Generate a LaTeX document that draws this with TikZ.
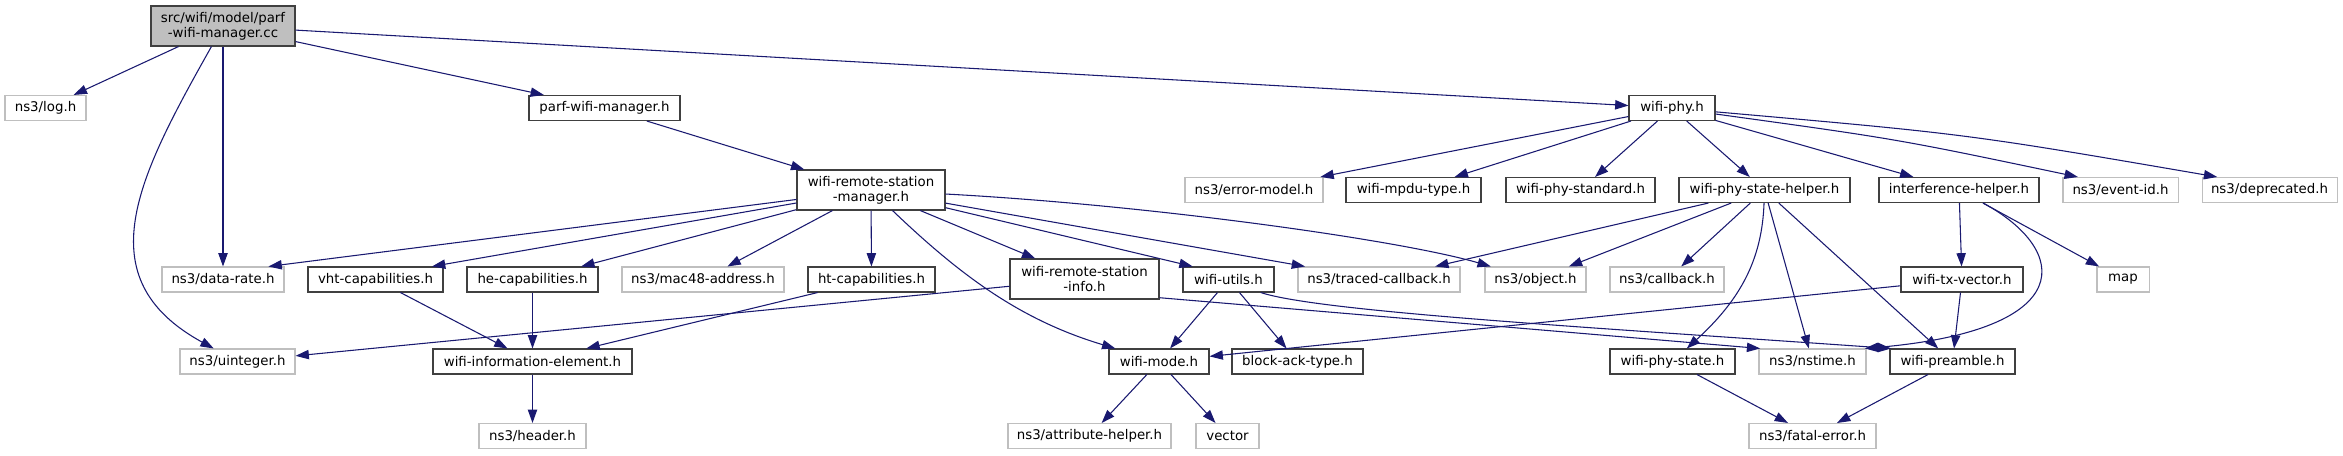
\documentclass[tikz,border=0pt]{standalone}
\usepackage{fontspec}
\setmainfont{DejaVu Sans}
\usepackage{xcolor}
\usepackage{tikz}
\usetikzlibrary{arrows.meta}

\definecolor{edgeblue}{HTML}{191970}
\definecolor{boxdark}{HTML}{404040}
\definecolor{boxlight}{HTML}{BFBFBF}

\begin{document}
\begin{tikzpicture}[x=0.75pt, y=-0.75pt,
    hdr/.style={draw=boxdark, line width=0.8pt, inner sep=0pt, minimum height=18.75pt,
                align=center, font=\fontsize{10}{11.5}\selectfont},
    syshdr/.style={hdr, draw=boxlight},
    tall/.style={minimum height=30pt},
    bw/.style={minimum width=#1*0.75pt},
    edge/.style={draw=edgeblue, line width=0.8pt, -{Triangle[length=10pt,width=7pt]}}]
\useasboundingbox (0,0) rectangle (2343,455);

% Source file
\node[hdr, tall, fill=boxlight, bw=144] (main) at (223,26) {src/wifi/model/parf\\-wifi-manager.cc};

% First level
\node[syshdr, bw=81] (log) at (45.5,108) {ns3/log.h};
\node[hdr, bw=151] (parf) at (604.5,108) {parf-wifi-manager.h};
\node[hdr, bw=86] (phy) at (1672,108) {wifi-phy.h};

% Second level
\node[hdr, tall, bw=148] (wrsm) at (871,190) {wifi-remote-station\\-manager.h};
\node[syshdr, bw=138] (errmodel) at (1254,190) {ns3/error-model.h};
\node[hdr, bw=135] (mpdu) at (1413.5,190) {wifi-mpdu-type.h};
\node[hdr, bw=149] (phystd) at (1580.5,190) {wifi-phy-standard.h};
\node[hdr, bw=171] (psh) at (1764.5,190) {wifi-phy-state-helper.h};
\node[hdr, bw=160] (intf) at (1959,190) {interference-helper.h};
\node[syshdr, bw=115] (eventid) at (2120.5,190) {ns3/event-id.h};
\node[syshdr, bw=135] (deprec) at (2269.5,190) {ns3/deprecated.h};

% Third level
\node[syshdr, bw=122] (datarate) at (223,279.5) {ns3/data-rate.h};
\node[hdr, bw=135] (vht) at (375.5,279.5) {vht-capabilities.h};
\node[hdr, bw=131] (he) at (532.5,279.5) {he-capabilities.h};
\node[syshdr, bw=162] (mac48) at (703,279.5) {ns3/mac48-address.h};
\node[hdr, bw=127] (ht) at (871.5,279.5) {ht-capabilities.h};
\node[hdr, tall, bw=149] (wrsi) at (1084.5,279) {wifi-remote-station\\-info.h};
\node[hdr, bw=91] (utils) at (1228.5,279.5) {wifi-utils.h};
\node[syshdr, bw=162] (traced) at (1379,279.5) {ns3/traced-callback.h};
\node[syshdr, bw=101] (object) at (1535.5,279.5) {ns3/object.h};
\node[syshdr, bw=114] (callback) at (1667,279.5) {ns3/callback.h};
\node[hdr, bw=122] (txvec) at (1962,279.5) {wifi-tx-vector.h};
\node[syshdr, bw=52] (map) at (2123,279.5) {map};

% Fourth level
\node[syshdr, bw=115] (uinteger) at (237.5,361.5) {ns3/uinteger.h};
\node[hdr, bw=199] (wie) at (532.5,361.5) {wifi-information-element.h};
\node[hdr, bw=100] (wmode) at (1159,361.5) {wifi-mode.h};
\node[hdr, bw=131] (blockack) at (1297.5,361.5) {block-ack-type.h};
\node[hdr, bw=125] (phystate) at (1672.5,361.5) {wifi-phy-state.h};
\node[syshdr, bw=107] (nstime) at (1812.5,361.5) {ns3/nstime.h};
\node[hdr, bw=125] (preamble) at (1952.5,361.5) {wifi-preamble.h};

% Fifth level
\node[syshdr, bw=107] (header) at (532.5,436) {ns3/header.h};
\node[syshdr, bw=163] (attrhelper) at (1089.5,436) {ns3/attribute-helper.h};
\node[syshdr, bw=63] (vector) at (1227.5,436) {vector};
\node[syshdr, bw=127] (fatal) at (1812.5,436) {ns3/fatal-error.h};

% Includes of the source file
\draw[edge] (main) -- (log);
\draw[edge] (main) -- (datarate);
\draw[edge] (main) .. controls (138,177) and (85,278) .. (uinteger);
\draw[edge] (main) -- (parf);
\draw[edge] (main) -- (phy);
\draw[edge] (parf) -- (wrsm);

% wifi-remote-station-manager.h
\draw[edge] (wrsm) -- (datarate.16);
\draw[edge] (wrsm) -- (vht.13);
\draw[edge] (wrsm) -- (he.15);
\draw[edge] (wrsm) -- (mac48);
\draw[edge] (wrsm) -- (ht);
\draw[edge] (wrsm) .. controls (960,275) and (1020,320) .. (wmode);
\draw[edge] (wrsm) -- (wrsi);
\draw[edge] (wrsm) -- (utils.160);
\draw[edge] (wrsm) -- (traced);
\draw[edge] (wrsm) .. controls (1150,205) and (1400,240) .. (object);

% capabilities
\draw[edge] (vht) -- (wie);
\draw[edge] (he) -- (wie);
\draw[edge] (ht) -- (wie);
\draw[edge] (wie) -- (header);

% station info and utils
\draw[edge] (wrsi) -- (uinteger);
\draw[edge] (wrsi.-14) -- (nstime.166);
\draw[edge] (utils) -- (wmode);
\draw[edge] (utils) -- (blockack);
\draw[edge] (utils.-22) .. controls (1320,312) and (1600,328) .. (preamble.168);

% wifi-phy.h
\draw[edge] (phy) -- (errmodel);
\draw[edge] (phy) -- (mpdu);
\draw[edge] (phy) -- (phystd);
\draw[edge] (phy) -- (psh);
\draw[edge] (phy) -- (intf);
\draw[edge] (phy) .. controls (1897,139) .. (eventid.163);
\draw[edge] (phy) .. controls (1967,134) .. (deprec.166);

% wifi-phy-state-helper.h
\draw[edge] (psh) -- (traced);
\draw[edge] (psh) -- (object);
\draw[edge] (psh) -- (callback);
\draw[edge] (psh) .. controls (1762,260) and (1740,300) .. (phystate);
\draw[edge] (psh) -- (nstime);
\draw[edge] (psh) -- (preamble);

% interference-helper.h
\draw[edge] (intf) -- (txvec);
\draw[edge] (intf) -- (map);
\draw[edge] (intf) .. controls (2070,250) and (2080,330) .. (nstime.14);
\draw[edge] (txvec) -- (wmode);
\draw[edge] (txvec) -- (preamble);

% bottom rows
\draw[edge] (phystate) -- (fatal);
\draw[edge] (preamble) -- (fatal);
\draw[edge] (wmode) -- (attrhelper);
\draw[edge] (wmode) -- (vector);
\end{tikzpicture}
\end{document}
